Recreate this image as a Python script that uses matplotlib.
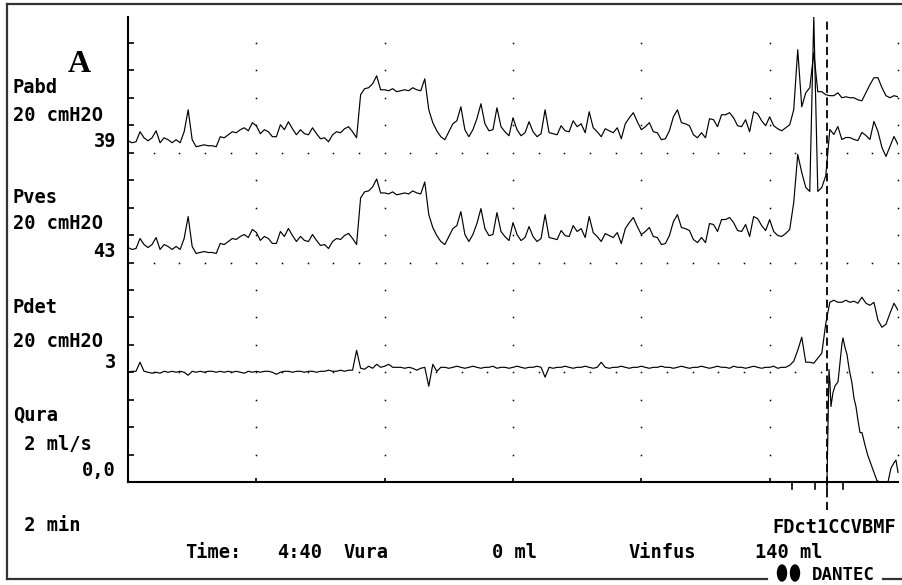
import matplotlib
matplotlib.use("Agg")
import matplotlib.pyplot as plt
import numpy as np
from matplotlib.lines import Line2D
from matplotlib.patches import Ellipse

W, H, DPI = 903, 585, 100

# ---------------- data ----------------
# time base: 12 min across the trace (2 min per division), one sample every 1/16 min
total_minutes = 12
samples_per_minute = 16

pabd = [  # cmH2O
    8.7, 7.3, 8.0, 15.3, 10.9, 8.7, 10.9, 16.0, 7.3, 10.9, 9.5, 7.3, 9.5, 7.3, 15.3, 31.3,
    9.5, 4.4, 5.1, 5.8, 5.1, 5.1, 4.4, 11.7, 10.9, 13.1, 15.3, 14.6, 16.8, 18.2, 16.0, 21.9,
    19.7, 13.9, 16.8, 15.3, 11.7, 11.7, 20.4, 16.8, 22.6, 17.5, 13.1, 16.8, 13.9, 13.1, 18.2, 13.9,
    10.2, 10.9, 8.0, 13.1, 15.3, 14.6, 17.5, 19.0, 15.3, 10.9, 42.3, 46.7, 47.4, 50.3, 56.1, 45.9,
    45.9, 45.2, 46.7, 44.5, 45.2, 45.9, 45.2, 47.4, 45.9, 45.2, 53.9, 31.3, 21.9, 16.0, 11.7, 9.5,
    15.3, 21.1, 23.3, 33.5, 16.8, 11.7, 16.8, 24.8, 35.7, 21.1, 16.0, 16.8, 32.8, 19.0, 15.3, 12.4,
    25.5, 16.8, 12.4, 14.6, 22.6, 15.3, 11.7, 13.9, 31.3, 14.6, 13.9, 13.1, 19.7, 16.0, 15.3, 23.3,
    19.0, 21.1, 14.6, 29.9, 18.2, 15.3, 11.7, 17.5, 16.0, 14.6, 18.2, 10.2, 21.1, 25.5, 29.2, 22.6,
    16.8, 19.0, 21.9, 15.3, 14.6, 9.5, 10.2, 16.0, 26.2, 31.3, 21.9, 21.1, 19.7, 13.1, 10.9, 14.6,
    10.9, 24.8, 24.1, 19.0, 27.7, 27.7, 29.2, 25.5, 19.7, 19.0, 24.1, 15.3, 29.9, 28.4, 23.3, 19.7,
    26.2, 19.7, 17.5, 16.0, 18.2, 20.4, 31.3, 75.1, 33.5, 43.7, 47.4, 72.9, 44.5, 44.5, 42.3, 41.6,
    41.6, 43.7, 40.1, 40.8, 40.1, 40.1, 38.6, 37.9, 43.7, 49.6, 54.7, 54.7, 47.4, 41.6, 40.1, 41.6,
    40.8,
]

pves = [  # cmH2O
    10.9, 9.5, 10.2, 17.5, 13.1, 10.9, 13.1, 18.2, 9.5, 13.1, 11.7, 9.5, 11.7, 9.5, 17.5, 33.5,
    11.7, 6.6, 7.3, 8.0, 7.3, 7.3, 6.6, 13.9, 13.1, 15.3, 17.5, 16.8, 19.0, 20.4, 18.2, 24.1,
    21.9, 16.1, 19.0, 17.5, 13.9, 13.9, 22.6, 19.0, 24.8, 19.7, 15.3, 19.0, 16.1, 15.3, 20.4, 16.1,
    12.4, 13.1, 10.2, 15.3, 17.5, 16.8, 19.7, 21.2, 17.5, 13.1, 47.1, 51.5, 52.2, 55.1, 60.9, 50.7,
    50.7, 50.0, 51.5, 49.3, 50.0, 50.7, 50.0, 52.2, 50.7, 50.0, 58.7, 34.9, 25.5, 19.6, 15.3, 13.1,
    18.9, 24.7, 26.9, 37.1, 20.4, 15.3, 20.4, 28.4, 39.3, 24.7, 19.6, 20.4, 36.4, 22.6, 18.9, 16.0,
    29.1, 20.4, 16.0, 18.2, 26.2, 18.9, 15.3, 17.5, 34.9, 18.2, 17.5, 16.7, 23.3, 19.6, 18.9, 26.9,
    22.6, 24.7, 18.2, 33.5, 21.8, 18.9, 15.3, 21.1, 19.6, 18.2, 21.8, 13.8, 24.7, 29.1, 32.8, 26.2,
    20.4, 22.6, 25.5, 18.9, 18.2, 13.1, 13.8, 19.6, 29.8, 34.9, 25.5, 24.7, 23.3, 16.7, 14.5, 18.2,
    14.5, 28.4, 27.7, 22.6, 31.3, 31.3, 32.8, 29.1, 23.3, 22.6, 27.7, 18.9, 33.5, 32.0, 26.9, 23.3,
    31.3, 22.6, 19.7, 19.0, 21.1, 24.1, 43.7, 78.7, 65.6, 54.7, 51.8, 179.3, 51.8, 54.7, 63.4, 97.0,
    93.3, 99.1, 89.7, 91.1, 91.1, 89.7, 88.9, 94.8, 92.6, 89.7, 102.8, 95.5, 83.8, 77.3, 84.6, 91.9,
    86.0,
]

pdet = [  # cmH2O
    0.0, 0.7, 0.7, 7.3, 0.7, 0.0, -0.7, 0.0, -0.7, 0.7, 0.0, 0.7, 0.0, 0.7, 0.0, -2.2,
    0.7, 0.0, 0.7, 0.0, 0.7, 0.7, 0.0, 0.7, 0.0, 0.7, 0.0, 0.7, 0.0, -0.7, 0.7, 0.0,
    0.7, 0.0, 0.7, 0.7, 0.0, -1.5, 0.0, 0.7, 0.7, 0.0, 0.7, 0.7, 0.0, 0.7, 0.7, 0.0,
    0.7, 0.7, 1.5, 0.7, 0.7, 1.5, 0.7, 1.5, 1.5, 16.0, 2.9, 2.2, 4.4, 2.9, 5.8, 3.6,
    4.4, 5.8, 3.6, 3.6, 3.6, 2.9, 3.6, 2.9, 1.5, 2.9, 3.6, -10.2, 5.8, 0.7, 3.6, 3.6,
    2.9, 3.6, 4.4, 3.6, 2.9, 3.6, 4.4, 3.6, 2.9, 3.6, 3.6, 4.4, 2.9, 3.6, 3.6, 2.9,
    3.6, 4.4, 3.6, 2.9, 3.6, 3.6, 4.4, 3.6, -3.6, 3.6, 2.9, 3.6, 3.6, 4.4, 3.6, 2.9,
    3.6, 3.6, 4.4, 3.6, 2.9, 3.6, 7.3, 3.6, 2.9, 3.6, 3.6, 4.4, 3.6, 2.9, 3.6, 3.6,
    4.4, 3.6, 2.9, 3.6, 3.6, 4.4, 3.6, 3.6, 2.9, 3.6, 4.4, 3.6, 2.9, 3.6, 3.6, 4.4,
    3.6, 2.9, 3.6, 4.4, 3.6, 3.6, 2.9, 4.4, 3.6, 3.6, 2.9, 3.6, 4.4, 3.6, 2.9, 3.6,
    3.6, 4.4, 2.9, 3.6, 3.6, 5.1, 8.0, 16.0, 25.5, 7.3, 7.3, 6.6, 10.2, 13.9, 35.7, 51.0,
    52.5, 51.0, 51.0, 52.5, 51.0, 51.8, 50.3, 54.7, 50.3, 48.8, 51.0, 37.9, 32.8, 35.0, 43.0, 50.3,
    45.2,
]

# uroflow (ml/s), only non-zero near the end of the trace
qura_time = [10.893, 10.908, 10.924, 10.940, 10.955, 10.986, 11.018, 11.065, 11.096, 11.127,
             11.143, 11.174, 11.205, 11.236, 11.283, 11.314, 11.345, 11.376, 11.408, 11.439,
             11.485, 11.532, 11.579, 11.625, 11.672, 11.719, 11.844, 11.890, 11.937, 11.968, 12.0]
qura_flow = [0.0, 3.8, 8.2, 7.2, 5.5, 6.5, 7.0, 7.3, 8.7, 10.1,
             10.5, 9.8, 9.3, 8.3, 7.2, 6.1, 5.5, 4.5, 3.6, 3.6,
             2.7, 1.9, 1.3, 0.7, 0.1, 0.0, 0.0, 1.0, 1.4, 1.6, 0.7]

cursor_time = 10.89
event_times = [10.35, 10.70, 10.89, 11.14]

channel_names = ["Pabd", "Pves", "Pdet", "Qura"]
channel_scales = ["20 cmH2O", "20 cmH2O", "20 cmH2O", " 2 ml/s"]
channel_values = ["39", "43", "3", "0,0"]
time_scale_label = " 2 min"
footer_labels = ["Time:", "4:40", "Vura", "0 ml", "Vinfus", "140 ml"]
event_label = "FDct1CCVBMF"
panel_label = "A"
brand = "DANTEC"

# ---------------- layout ----------------
pressure_per_div = 20.0
flow_per_div = 2.0
n_div = 16
baselines = {"Pabd": 12, "Pves": 8, "Pdet": 4, "Qura": 0}

fig = plt.figure(figsize=(W / DPI, H / DPI), dpi=DPI)
fig.patch.set_facecolor("white")

L, R, B, T = 128, 898, 482, 17
div_px = (B - 43) / n_div
ymax = (B - T) / div_px
ax = fig.add_axes([L / W, 1 - B / H, (R - L) / W, (B - T) / H])
ax.set_xlim(0, total_minutes)
ax.set_ylim(0, ymax)
ax.set_facecolor("none")
for s in ["top", "right"]:
    ax.spines[s].set_visible(False)
for s in ["left", "bottom"]:
    ax.spines[s].set_linewidth(1.5)
    ax.spines[s].set_color("black")
ax.set_yticks(np.arange(1, n_div + 1))
ax.set_xticks(np.arange(2, total_minutes, 2))
ax.tick_params(axis="y", direction="in", length=4, width=1.2, labelleft=False)
ax.tick_params(axis="x", direction="in", length=3, width=1.2, labelbottom=False)

# grid dots
dense_rows = [baselines["Pabd"], baselines["Pves"], baselines["Pdet"]]
major_cols = np.arange(2, total_minutes + 0.01, 2)
minor_cols = np.arange(0.4, total_minutes + 0.01, 0.4)
for k in range(1, n_div + 1):
    cols = minor_cols if k in dense_rows else major_cols
    ax.plot(cols, np.full(len(cols), k), ls="none", marker="s", ms=1.1,
            color="black", mew=0, clip_on=False)

t = np.arange(len(pabd)) / samples_per_minute
lw = 0.85
ax.plot(t, baselines["Pabd"] + np.array(pabd) / pressure_per_div, color="black", lw=lw)
ax.plot(t, baselines["Pves"] + np.array(pves) / pressure_per_div, color="black", lw=lw)
ax.plot(t, baselines["Pdet"] + np.array(pdet) / pressure_per_div, color="black", lw=lw)
ax.plot(qura_time, baselines["Qura"] + np.array(qura_flow) / flow_per_div,
        color="black", lw=lw, clip_on=False)

# cursor and event marks
ax.plot([cursor_time, cursor_time], [-1.02, ymax], color="black", lw=1.3,
        ls=(0, (4.5, 2.5)), clip_on=False)
for et in event_times:
    ax.plot([et, et], [0, -0.25], color="black", lw=1.2, clip_on=False)

# ---------------- texts ----------------
mono = dict(fontfamily="DejaVu Sans Mono", fontweight="bold", fontsize=13.4, color="black")


def ptext(x, y, s, ha="left", va="baseline", **kw):
    opts = dict(mono)
    opts.update(kw)
    fig.text(x / W, 1 - y / H, s, ha=ha, va=va, **opts)


name_y = [93, 203, 313, 421]
scale_y = [121, 229, 347, 450]
value_y = [147, 257, 368, 476]
for i in range(4):
    ptext(13, name_y[i], channel_names[i])
    ptext(13, scale_y[i], channel_scales[i])
    ptext(116, value_y[i], channel_values[i], ha="right")
ptext(13, 531, time_scale_label)

footer_x = [185, 277, 343, 492, 628, 755]
for x, s in zip(footer_x, footer_labels):
    ptext(x, 558, s)
ptext(896, 533, event_label, ha="right")
ptext(812, 584.5, brand, va="bottom", fontsize=12.5)

fig.text(68 / W, 1 - 72 / H, panel_label, ha="left", va="baseline",
         fontfamily="Liberation Serif", fontweight="bold", fontsize=23)

# frame
frame_kw = dict(transform=fig.transFigure, color="#333333", lw=1.6)
fig.add_artist(Line2D([7 / W, 1.0], [1 - 4 / H, 1 - 4 / H], **frame_kw))
fig.add_artist(Line2D([7 / W, 7 / W], [1 - 4 / H, 1 - 579 / H], **frame_kw))
fig.add_artist(Line2D([7 / W, 767 / W], [1 - 579 / H, 1 - 579 / H], **frame_kw))
fig.add_artist(Line2D([883 / W, 1.0], [1 - 579 / H, 1 - 579 / H], **frame_kw))

# brand logo (two soles)
for cx in (782, 795):
    fig.add_artist(Ellipse((cx / W, 1 - 573 / H), 9 / W, 16 / H,
                           transform=fig.transFigure, color="black"))

fig.savefig("out.png", dpi=DPI)
